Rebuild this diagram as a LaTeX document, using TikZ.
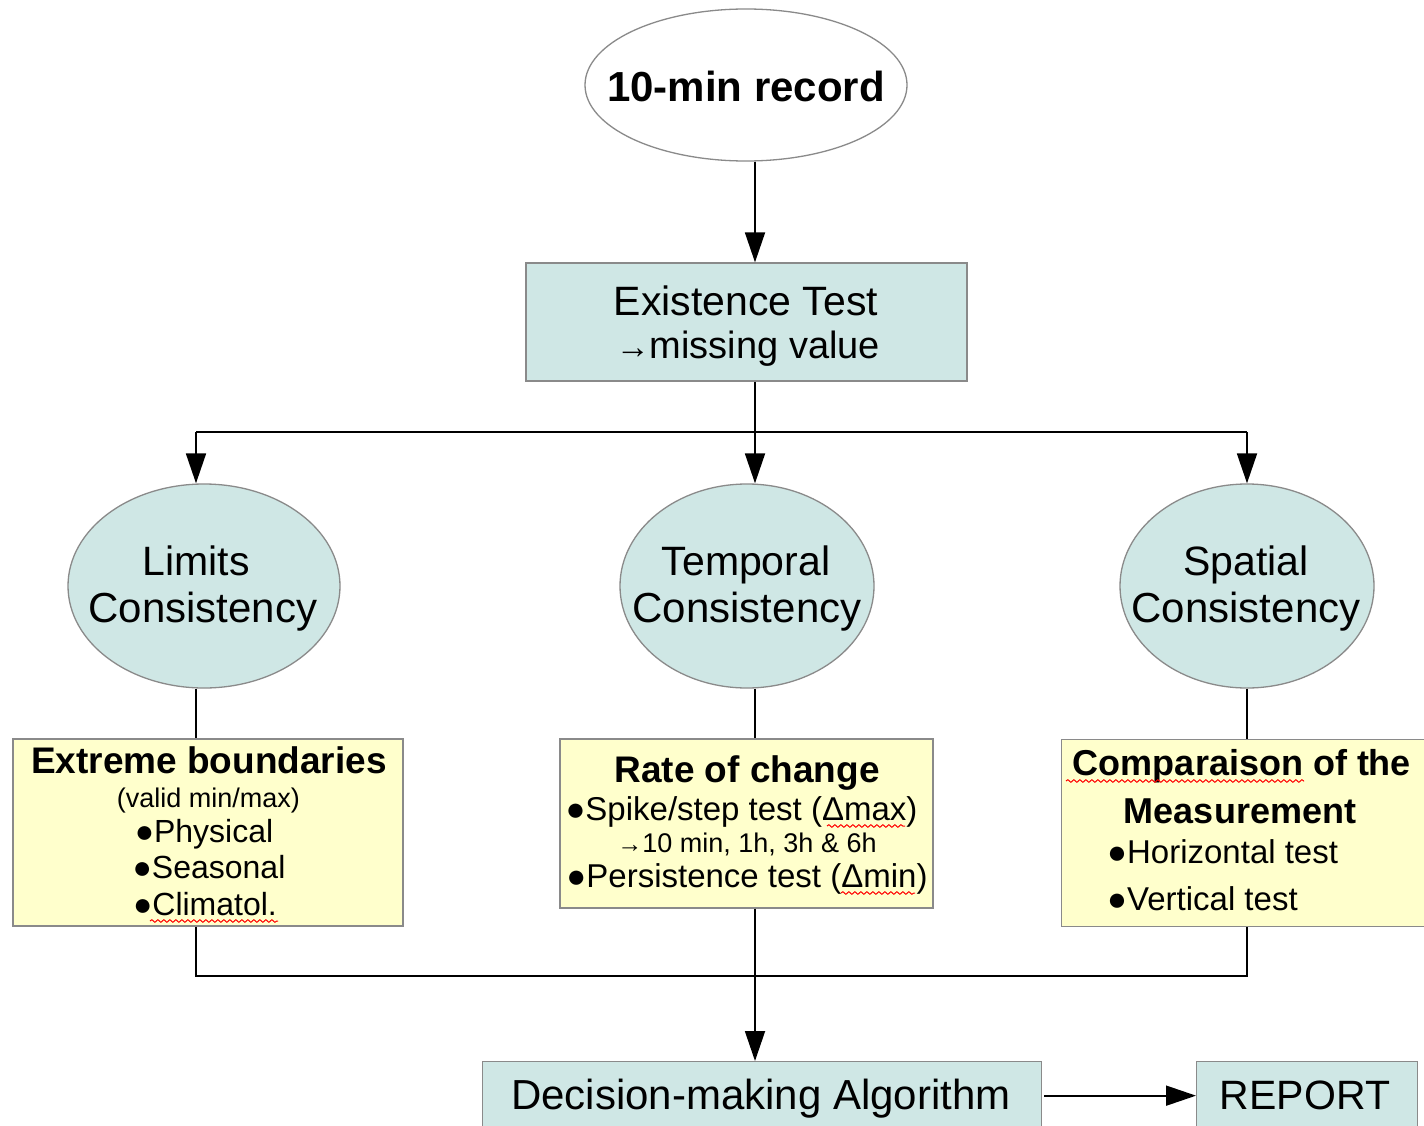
\documentclass[tikz,border=0pt]{standalone}
\usepackage{fontspec}
\setmainfont{Liberation Sans}
\usetikzlibrary{shapes.geometric,arrows.meta,decorations.pathmorphing}
\definecolor{tealfill}{HTML}{CFE7E5}
\definecolor{yellowfill}{HTML}{FFFFCC}
\definecolor{bordergray}{HTML}{8A8A8A}
\newcommand{\fs}[1]{\fontsize{#1}{#1}\selectfont}
\tikzset{
  conn/.style={draw=black, line width=1.8pt},
  arr/.style={conn, -{Triangle[length=30pt,width=20pt]}},
  tealbox/.style={rectangle, draw=bordergray, line width=1.3pt, fill=tealfill, inner sep=0pt},
  yelbox/.style={rectangle, draw=bordergray, line width=1.3pt, fill=yellowfill, inner sep=0pt},
  tealell/.style={ellipse, draw=bordergray, line width=1.3pt, fill=tealfill, inner sep=0pt},
  txt/.style={inner sep=0pt, anchor=base},
  txtl/.style={inner sep=0pt, anchor=base west},
  spell/.style={draw=red, line width=1pt, decorate, decoration={snake, amplitude=1.3pt, segment length=6pt}}
}
\begin{document}
\begin{tikzpicture}[x=1pt,y=-1pt]
\useasboundingbox (0,0) rectangle (1424,1126);
\clip (0,0) rectangle (1424,1126);
\fill[white] (0,0) rectangle (1424,1126);

% columns
\coordinate (lcol) at (196,0);
\coordinate (trunk) at (755,0);
\coordinate (rcol) at (1247,0);

% top ellipse
\node[ellipse, draw=bordergray, line width=1.3pt, fill=white, minimum width=322pt, minimum height=152pt, inner sep=0pt] (top) at (746,85) {};
\node[txt] (toptxt) at (746,102) {\fs{42}\bfseries 10-min record};

% existence box
\node[tealbox, minimum width=441pt, minimum height=118pt] (exist) at (746.5,322) {};
\node[txt] (ex1) at (746,315) {\fs{41}Existence Test};
\node[txt] (ex2) at (748,358) {{\fs{34}→}\fs{38}missing value};

% ellipses
\node[tealell, minimum width=272pt, minimum height=204pt] (limits) at (204,586) {};
\node[txt] (lim1) at (196,575) {\fs{41}Limits};
\node[txt] (lim2) at (203,622) {\fs{42}Consistency};

\node[tealell, minimum width=254pt, minimum height=204pt] (temporal) at (747,586) {};
\node[txt] (tem1) at (746,575) {\fs{41}Temporal};
\node[txt] (tem2) at (747,622) {\fs{42}Consistency};

\node[tealell, minimum width=254pt, minimum height=204pt] (spatial) at (1247,586) {};
\node[txt] (spa1) at (1246,575) {\fs{41}Spatial};
\node[txt] (spa2) at (1246,622) {\fs{42}Consistency};

% yellow boxes
\node[yelbox, minimum width=390pt, minimum height=187pt] (lbox) at (208,832.5) {};
\node[txt] (lb1) at (209,773) {\fs{37}\bfseries Extreme boundaries};
\node[txt] (lb2) at (208.5,807) {\fs{27}(valid min/max)};
\node[txt] (lb3) at (204,842) {\fs{32}●Physical};
\node[txt] (lb4) at (209,878) {\fs{32}●Seasonal};
\node[txt] (lb5) at (205,915) {\fs{32}●Climatol.};
\draw[spell] (150,921) -- (278,921);

\node[yelbox, minimum width=373pt, minimum height=169pt] (mbox) at (746.5,823.5) {};
\node[txt] (mb1) at (747,782) {\fs{37}\bfseries Rate of change};
\node[txt] (mb2) at (741.5,820) {\fs{33}●Spike/step test (Δmax)};
\node[txt] (mb3) at (747,852) {{\fs{25}→}\fs{27}10 min, 1h, 3h \& 6h};
\node[txt] (mb4) at (747,887) {\fs{33}●Persistence test (Δmin)};
\draw[spell] (827,826) -- (905,826);
\draw[spell] (841,893) -- (915,893);

\node[yelbox, minimum width=380pt, minimum height=187pt, anchor=north west] (rbox) at (1061,739) {};
\node[txt] (rb1) at (1242,775) {\fs{36}\bfseries Comparaison of the};
\node[txt] (rb2) at (1240,823) {\fs{36}\bfseries Measurement};
\node[txtl] (rb3) at (1107,863) {\fs{33}●Horizontal test};
\node[txtl] (rb4) at (1107,910) {\fs{33}●Vertical test};
\draw[spell] (1066,781) -- (1304,781);

% bottom boxes
\node[tealbox, minimum width=559pt, minimum height=68pt, anchor=north west] (decision) at (482,1061) {};
\node[txt] (dectxt) at (761,1109) {\fs{42}Decision-making Algorithm};
\node[tealbox, minimum width=221pt, minimum height=68pt, anchor=north west] (report) at (1196,1061) {};
\node[txt] (reptxt) at (1305,1109) {\fs{41}REPORT};

% connectors
\coordinate (split) at (755,432);
\coordinate (merge) at (755,976);
\draw[arr] (top.south -| trunk) -- (exist.north -| trunk);
\draw[conn] (exist.south -| trunk) -- (split);
\draw[conn] (lcol |- split) -- (rcol |- split);
\draw[arr] (lcol |- split) -- (limits.north -| lcol);
\draw[arr] (split) -- (temporal.north -| trunk);
\draw[arr] (rcol |- split) -- (spatial.north -| rcol);

\draw[conn] (limits.south -| lcol) -- (lbox.north -| lcol);
\draw[conn] (temporal.south -| trunk) -- (mbox.north -| trunk);
\draw[conn] (spatial.south -| rcol) -- (rbox.north -| rcol);

\draw[conn] (lbox.south -| lcol) -- (lcol |- merge) -- (rcol |- merge) -- (rbox.south -| rcol);
\draw[conn] (mbox.south -| trunk) -- (merge);
\draw[arr] (merge) -- (decision.north -| trunk);
\draw[arr, shorten <=2pt] (decision.east) -- (report.west);
\end{tikzpicture}
\end{document}
